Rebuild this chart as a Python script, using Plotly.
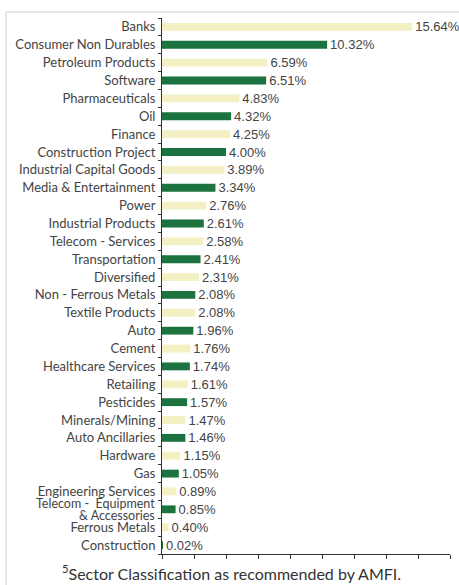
import plotly.graph_objects as go

sectors = [
    "Banks", "Consumer Non Durables", "Petroleum Products", "Software",
    "Pharmaceuticals", "Oil", "Finance", "Construction Project",
    "Industrial Capital Goods", "Media & Entertainment", "Power",
    "Industrial Products", "Telecom - Services", "Transportation",
    "Diversified", "Non - Ferrous Metals", "Textile Products", "Auto",
    "Cement", "Healthcare Services", "Retailing", "Pesticides",
    "Minerals/Mining", "Auto Ancillaries", "Hardware", "Gas",
    "Engineering Services", "Telecom -  Equipment & Accessories",
    "Ferrous Metals", "Construction",
]
weights = [
    15.64, 10.32, 6.59, 6.51, 4.83, 4.32, 4.25, 4.00, 3.89, 3.34, 2.76,
    2.61, 2.58, 2.41, 2.31, 2.08, 2.08, 1.96, 1.76, 1.74, 1.61, 1.57,
    1.47, 1.46, 1.15, 1.05, 0.89, 0.85, 0.40, 0.02,
]

LIGHT = "#f3f1c3"
GREEN = "#1d7340"
LABEL_FONT = "Lato, Open Sans, sans-serif"
TEXT_COLOR = "#444444"
colors = [LIGHT if i % 2 == 0 else GREEN for i in range(len(sectors))]

# the long sector name is set as two tight lines by hand
WRAPPED = "Telecom -  Equipment & Accessories"
ticktext = ["" if s == WRAPPED else s for s in sectors]

fig = go.Figure(
    go.Bar(
        x=weights,
        y=sectors,
        orientation="h",
        marker=dict(color=colors, line=dict(width=0)),
        texttemplate="%{x:.2f}%",
        textposition="outside",
        constraintext="none",
        textfont=dict(family="Liberation Sans, Arial", size=13, color=TEXT_COLOR),
        cliponaxis=False,
    )
)

wrapped_lines = ["Telecom -  Equipment", "& Accessories"]
annotations = []
for k, line in enumerate(wrapped_lines):
    annotations.append(dict(
        text=line, x=0, xref="x", y=WRAPPED, yref="y",
        xanchor="right", yanchor="middle", xshift=-6, yshift=6 - 12 * k,
        showarrow=False, borderpad=0,
        font=dict(family=LABEL_FONT, size=12.5, color=TEXT_COLOR),
    ))

annotations.append(dict(
    text="<sup>5</sup>Sector Classification as recommended by AMFI.",
    xref="paper", yref="paper",
    x=(231 - 162) / 288, y=-30 / 536,
    xanchor="center", yanchor="bottom",
    showarrow=False, borderpad=0,
    font=dict(family=LABEL_FONT, size=16, color="#333333"),
))

fig.update_layout(
    width=459,
    height=585,
    margin=dict(l=162, r=9, t=18, b=31),
    paper_bgcolor="white",
    plot_bgcolor="white",
    bargap=0.56,
    showlegend=False,
    font=dict(family=LABEL_FONT, size=13, color=TEXT_COLOR),
    xaxis=dict(
        range=[0, 18],
        dtick=2,
        showticklabels=False,
        showgrid=False,
        zeroline=False,
        showline=True,
        linecolor="#333333",
        linewidth=1,
        ticks="outside",
        ticklen=4,
        tickcolor="#333333",
        fixedrange=True,
    ),
    yaxis=dict(
        autorange="reversed",
        showgrid=False,
        showline=True,
        linecolor="#333333",
        linewidth=1,
        ticks="outside",
        tickson="boundaries",
        ticklen=3,
        tickcolor="#333333",
        tickmode="array",
        tickvals=sectors,
        ticktext=ticktext,
        ticklabelstandoff=3,
        tickfont=dict(family=LABEL_FONT, size=13, color=TEXT_COLOR),
    ),
    shapes=[
        # light frame around the panel (top and left edges)
        dict(type="line", xref="paper", yref="paper",
             x0=-156 / 288, x1=1 + 9 / 288, y0=1 + 6 / 536, y1=1 + 6 / 536,
             line=dict(color="#e6e6e6", width=2)),
        dict(type="line", xref="paper", yref="paper",
             x0=-156 / 288, x1=-156 / 288, y0=1 + 6 / 536, y1=-31 / 536,
             line=dict(color="#e6e6e6", width=2)),
    ],
    annotations=annotations,
)

fig.write_html("out.html")
